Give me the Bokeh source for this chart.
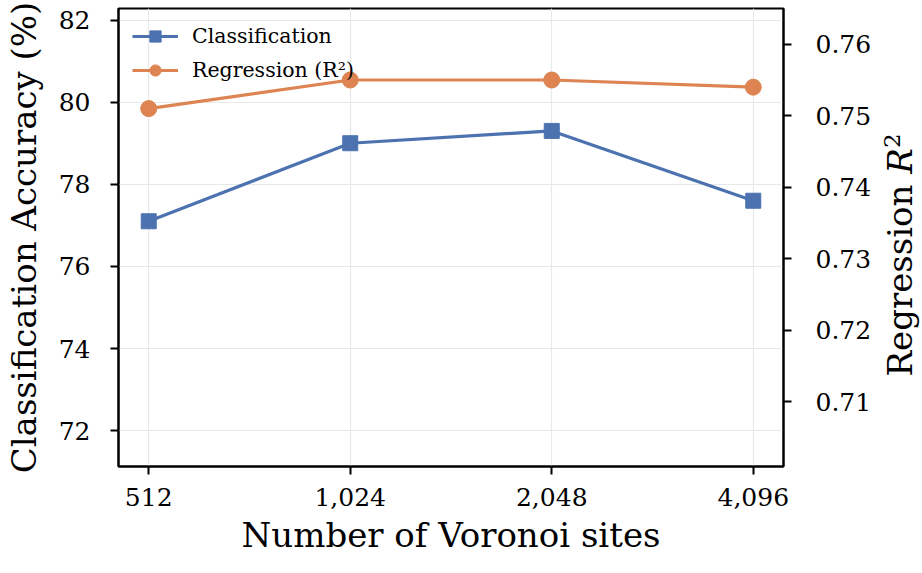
from bokeh.plotting import figure
from bokeh.models import Range1d, LinearAxis, FixedTicker, Legend, LegendItem, Div
from bokeh.layouts import row
from bokeh.embed import file_html
from bokeh.resources import INLINE

sites = [512, 1024, 2048, 4096]
cls_acc = [77.1, 79.0, 79.3, 77.6]
reg_r2 = [0.751, 0.755, 0.755, 0.754]
left_ticks = [72, 74, 76, 78, 80, 82]
right_ticks = [0.71, 0.72, 0.73, 0.74, 0.75, 0.76]

BLUE = "#4C72B0"
ORANGE = "#DD8452"
FONT = "DejaVu Serif"

pad = 2 ** 0.15
y_lo, y_hi = 71.13, 82.28
p = figure(width=875, height=557, x_axis_type="log",
           x_range=Range1d(sites[0] / pad, sites[-1] * pad),
           y_range=Range1d(y_lo, y_hi),
           output_backend="svg", toolbar_location=None,
           min_border_left=117, min_border_right=92,
           min_border_top=8, min_border_bottom=75)
p.extra_y_ranges = {"r2": Range1d(0.70095, 0.7650)}

p.outline_line_color = "black"
p.outline_line_width = 2
p.background_fill_color = "white"
p.border_fill_color = "white"

xa = p.xaxis[0]
xa.ticker = FixedTicker(ticks=sites)
xa.major_label_overrides = {s: f"{s:,}" for s in sites}
xa.axis_label = "Number of Voronoi sites"

ya = p.yaxis[0]
ya.ticker = FixedTicker(ticks=left_ticks)
ya.axis_label = "Classification Accuracy (%)"

ra = LinearAxis(y_range_name="r2", ticker=FixedTicker(ticks=right_ticks))
p.add_layout(ra, "right")

for ax in [xa, ya, ra]:
    ax.axis_line_color = "black"
    ax.axis_line_width = 2
    ax.major_tick_line_color = "black"
    ax.major_tick_line_width = 2
    ax.major_tick_out = 8
    ax.major_tick_in = 0
    ax.minor_tick_line_color = None
    ax.major_label_text_font = FONT
    ax.major_label_text_font_size = "25px"
    ax.major_label_text_color = "black"
    ax.axis_label_text_font = FONT
    ax.axis_label_text_font_size = "34px"
    ax.axis_label_text_font_style = "normal"
    ax.axis_label_text_color = "black"
ya.major_label_standoff = 20
ya.axis_label_standoff = 12
ra.major_label_standoff = 24
xa.major_label_standoff = 13
xa.axis_label_standoff = 6

p.xgrid.ticker = FixedTicker(ticks=sites)
p.ygrid.ticker = FixedTicker(ticks=left_ticks)
for g in [p.xgrid[0], p.ygrid[0]]:
    g.grid_line_color = "#e8e8e8"
    g.grid_line_width = 1.2

l1 = p.line(sites, cls_acc, color=BLUE, line_width=3.2)
m1 = p.scatter(sites, cls_acc, marker="square", size=15, color=BLUE)
l2 = p.line(sites, reg_r2, color=ORANGE, line_width=3.2, y_range_name="r2")
m2 = p.scatter(sites, reg_r2, marker="circle", size=16, color=ORANGE, y_range_name="r2")

legend = Legend(items=[LegendItem(label="Classification", renderers=[l1, m1]),
                       LegendItem(label="Regression (R²)", renderers=[l2, m2])],
                location="top_left")
legend.border_line_color = None
legend.background_fill_alpha = 0.0
legend.label_text_font = FONT
legend.label_text_font_size = "20.5px"
legend.label_text_color = "black"
legend.glyph_width = 46
legend.glyph_height = 28
legend.label_height = 28
legend.spacing = 6
legend.margin = 14
legend.padding = 0
legend.label_standoff = 14
p.add_layout(legend)

# right-hand axis title (reads bottom-to-top, italic R with superscript 2)
r_title = Div(
    text=("<div style=\"position:absolute; left:19px; top:250px; "
          "transform:translate(-50%,-50%) rotate(-90deg); white-space:nowrap; "
          "font-family:'DejaVu Serif'; font-size:34px; color:black; line-height:1;\">"
          "Regression <i>R</i><sup style=\"font-size:23px;\">2</sup></div>"),
    width=31, height=557,
    styles={"position": "relative", "overflow": "visible"})

layout = row(p, r_title, spacing=0)
open("out.html", "w").write(file_html(layout, INLINE))
